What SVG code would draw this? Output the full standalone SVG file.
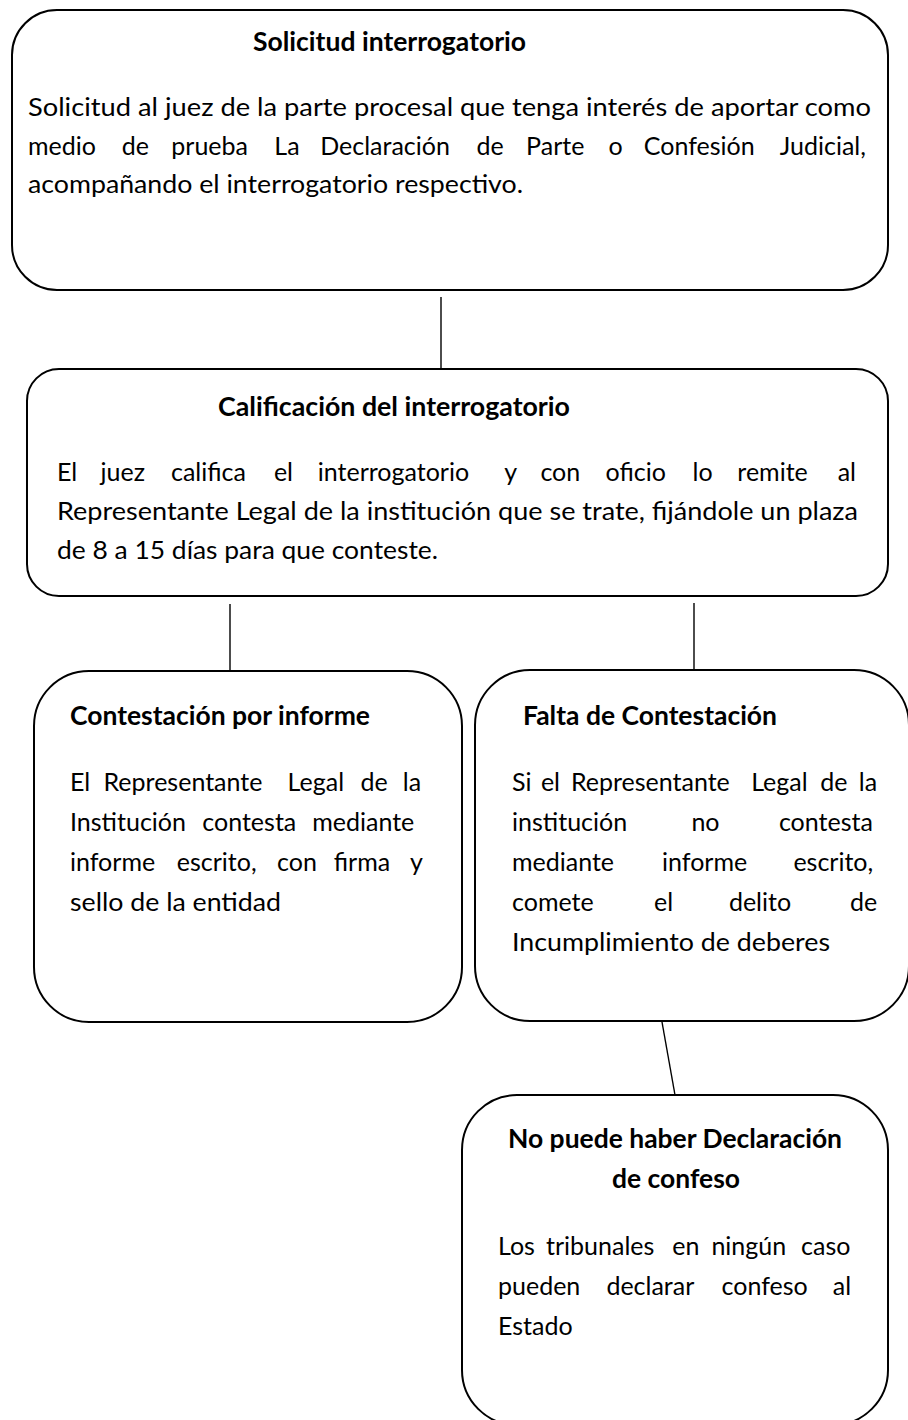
<svg xmlns="http://www.w3.org/2000/svg" width="908" height="1420" viewBox="0 0 908 1420">
<style>
.box{fill:#fff;stroke:#000;stroke-width:2}
.con{stroke:#000;stroke-width:1.4;fill:none}
.t{font-family:Lato,"Liberation Sans",sans-serif;font-size:25px;fill:#000}
.h{font-family:Lato,"Liberation Sans",sans-serif;font-size:26px;font-weight:bold;fill:#000}
</style>
<rect width="908" height="1420" fill="#fff"/>
<g id="connectors">
<line class="con" x1="441" y1="297" x2="441" y2="369"/>
<line class="con" x1="230" y1="604" x2="230" y2="671"/>
<line class="con" x1="694" y1="603" x2="694" y2="670"/>
<line class="con" x1="662" y1="1022" x2="675" y2="1095"/>
</g>
<g id="n1">
<rect class="box" x="12" y="10" width="876" height="280" rx="45" ry="45"/>
<text class="h" x="253" y="51" textLength="273" lengthAdjust="spacingAndGlyphs">Solicitud interrogatorio</text>
<text class="t" x="28" y="116" textLength="843" lengthAdjust="spacingAndGlyphs">Solicitud al juez de la parte procesal que tenga interés de aportar como</text>
<text class="t" y="155"><tspan x="28">medio</tspan><tspan x="121.8">de</tspan><tspan x="171.3">prueba</tspan><tspan x="274.3">La</tspan><tspan x="320.2">Declaración</tspan><tspan x="476.6">de</tspan><tspan x="526.1">Parte</tspan><tspan x="608.5">o</tspan><tspan x="643.8">Confesión</tspan><tspan x="779.8">Judicial,</tspan></text>
<text class="t" x="28" y="193" textLength="495" lengthAdjust="spacingAndGlyphs">acompañando el interrogatorio respectivo.</text>
</g>
<g id="n2">
<rect class="box" x="27" y="369" width="861" height="227" rx="32" ry="32"/>
<text class="h" x="218" y="416" textLength="352" lengthAdjust="spacingAndGlyphs">Calificación del interrogatorio</text>
<text class="t" y="481"><tspan x="57">El</tspan><tspan x="100.6">juez</tspan><tspan x="171">califica</tspan><tspan x="273.9">el</tspan><tspan x="317.8">interrogatorio</tspan><tspan x="504.3">y</tspan><tspan x="540.4">con</tspan><tspan x="605.6">oficio</tspan><tspan x="692.6">lo</tspan><tspan x="737.3">remite</tspan><tspan x="837.7">al</tspan></text>
<text class="t" x="57" y="520" textLength="801" lengthAdjust="spacingAndGlyphs">Representante Legal de la institución que se trate, fijándole un plaza</text>
<text class="t" x="57" y="559" textLength="381" lengthAdjust="spacingAndGlyphs">de 8 a 15 días para que conteste.</text>
</g>
<g id="n3">
<rect class="box" x="34" y="671" width="428" height="351" rx="55" ry="55"/>
<text class="h" x="70" y="725" textLength="300" lengthAdjust="spacingAndGlyphs">Contestación por informe</text>
<text class="t" y="791"><tspan x="70">El</tspan><tspan x="103.5">Representante</tspan><tspan x="287.6">Legal</tspan><tspan x="360.5">de</tspan><tspan x="402.8">la</tspan></text>
<text class="t" y="831"><tspan x="70">Institución</tspan><tspan x="202.3">contesta</tspan><tspan x="312.2">mediante</tspan></text>
<text class="t" y="871"><tspan x="70">informe</tspan><tspan x="176.8">escrito,</tspan><tspan x="277.1">con</tspan><tspan x="333.8">firma</tspan><tspan x="410.1">y</tspan></text>
<text class="t" x="70" y="911" textLength="211" lengthAdjust="spacingAndGlyphs">sello de la entidad</text>
</g>
<g id="n4">
<rect class="box" x="475" y="670" width="434" height="351" rx="55" ry="55"/>
<text class="h" x="523" y="725" textLength="254" lengthAdjust="spacingAndGlyphs">Falta de Contestación</text>
<text class="t" y="791"><tspan x="512">Si</tspan><tspan x="540.9">el</tspan><tspan x="570.9">Representante</tspan><tspan x="751.2">Legal</tspan><tspan x="820.3">de</tspan><tspan x="858.8">la</tspan></text>
<text class="t" y="831"><tspan x="512">institución</tspan><tspan x="691.4">no</tspan><tspan x="778.9">contesta</tspan></text>
<text class="t" y="871"><tspan x="512">mediante</tspan><tspan x="662.1">informe</tspan><tspan x="793.4">escrito,</tspan></text>
<text class="t" y="911"><tspan x="512">comete</tspan><tspan x="654">el</tspan><tspan x="728.9">delito</tspan><tspan x="849.9">de</tspan></text>
<text class="t" x="512" y="951" textLength="318" lengthAdjust="spacingAndGlyphs">Incumplimiento de deberes</text>
</g>
<g id="n5">
<rect class="box" x="462" y="1095" width="426" height="330" rx="55" ry="55"/>
<text class="h" x="508" y="1148" textLength="334" lengthAdjust="spacingAndGlyphs">No puede haber Declaración</text>
<text class="h" x="612" y="1188" textLength="128" lengthAdjust="spacingAndGlyphs">de confeso</text>
<text class="t" y="1255"><tspan x="498">Los</tspan><tspan x="546">tribunales</tspan><tspan x="672.3">en</tspan><tspan x="711.4">ningún</tspan><tspan x="801.1">caso</tspan></text>
<text class="t" y="1295"><tspan x="498">pueden</tspan><tspan x="606.4">declarar</tspan><tspan x="721.5">confeso</tspan><tspan x="832.8">al</tspan></text>
<text class="t" x="498" y="1335">Estado</text>
</g>
</svg>
